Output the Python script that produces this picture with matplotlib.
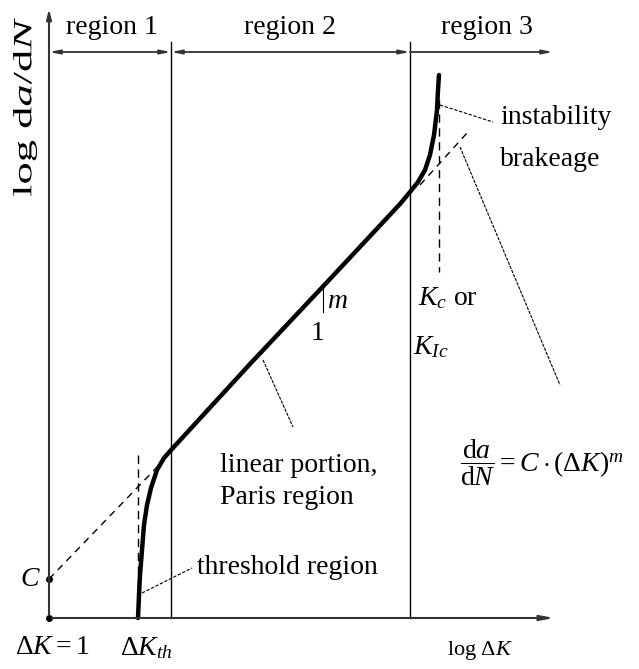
import numpy as np
import matplotlib.pyplot as plt
from matplotlib.textpath import TextPath
from matplotlib.patches import PathPatch
from matplotlib.font_manager import FontProperties
from matplotlib.transforms import Affine2D

plt.rcParams['font.family'] = ['Liberation Serif', 'DejaVu Serif']
plt.rcParams['mathtext.fontset'] = 'custom'
plt.rcParams['mathtext.rm'] = 'Liberation Serif'
plt.rcParams['mathtext.it'] = 'Liberation Serif:italic'

# schematic drawn in pixel units (x right, y down)
curve_x = [138, 139, 140, 142, 144, 147, 151, 157, 164, 172, 250, 330, 400, 410, 418, 425, 430, 434, 437, 438, 439]
curve_y = [618, 595, 575, 550, 525, 505, 488, 470, 458, 449, 364, 279, 204, 192, 182, 170, 155, 135, 110, 90, 75]

region_edges = [49, 171, 410, 553]
region_labels = ['region 1', 'region 2', 'region 3']
region_label_x = [112, 290, 487]

paris_low_x, paris_low_y = [49, 162], [579, 462]
paris_high_x, paris_high_y = [420, 467], [185, 133]

origin = (49, 618)
c_point = (49, 579)
dk_th = 138
k_c = 439

fig = plt.figure(figsize=(6.39, 6.69), dpi=100)
ax = fig.add_axes([0, 0, 1, 1])
ax.set_xlim(0, 639)
ax.set_ylim(669, 0)
ax.axis('off')

# axes with arrows
ax.annotate('', xy=(49, 6), xytext=origin,
            arrowprops=dict(arrowstyle='-|>,head_length=0.6,head_width=0.15', color='#333', lw=1.5))
ax.annotate('', xy=(557, 618), xytext=origin,
            arrowprops=dict(arrowstyle='-|>,head_length=0.8,head_width=0.15', color='#333', lw=1.5))

# region boundaries
for xe in region_edges[1:3]:
    ax.plot([xe, xe], [42, 618], color='black', lw=1)

# region dimension line
for i in range(2):
    ax.annotate('', xy=(region_edges[i], 52), xytext=(region_edges[i + 1], 52),
                arrowprops=dict(arrowstyle='<|-|>,head_length=0.6,head_width=0.12', color='#333', lw=1.3,
                                shrinkA=0, shrinkB=0))
ax.annotate('', xy=(region_edges[2], 52), xytext=(region_edges[3], 52),
            arrowprops=dict(arrowstyle='<|-,head_length=0.6,head_width=0.12', color='#333', lw=1.3,
                            shrinkA=0, shrinkB=0))
for lbl, xl in zip(region_labels, region_label_x):
    ax.text(xl, 27, lbl, ha='center', va='center', fontsize=20)

# dashed construction lines
ax.plot(paris_low_x, paris_low_y, color='black', lw=1, ls=(0, (5, 4)))
ax.plot(paris_high_x, paris_high_y, color='black', lw=1, ls=(0, (5, 4)))
ax.plot([dk_th, dk_th], [455, 618], color='black', lw=1, ls=(0, (6, 4)))
ax.plot([k_c, k_c], [100, 272], color='black', lw=1, ls=(0, (6, 4)))

# main curve
ax.plot(curve_x, curve_y, color='black', lw=3.2, solid_capstyle='round')

# points
ax.plot(*zip(origin, c_point), ls='none', marker='o', ms=4, color='black')

# leaders
ax.plot([440, 493], [105, 122], color='black', lw=0.8, ls=(0, (3, 1.5)))
ax.plot([460, 560], [147, 385], color='black', lw=0.8, ls=(0, (3, 1)))
ax.plot([263, 293], [360, 427], color='black', lw=0.8, ls=(0, (3, 1)))
ax.plot([142, 192], [593, 568], color='black', lw=0.8, ls=(0, (3, 1.5)))

# slope marker
ax.plot([323, 323], [288, 312], color='black', lw=0.8)
ax.text(327, 302, '$m$', fontsize=20, ha='left', va='center')
ax.text(318, 334, '1', fontsize=20, ha='center', va='center')

# y label, stretched along its length like the original
tp = TextPath((0, 0), r'log d$a$/d$N$', size=27.8, prop=FontProperties(family='Liberation Serif'))
ext = tp.get_extents()
su, sv = 1.6, 0.95
cu, cv = (ext.x0 + ext.x1) / 2, (ext.y0 + ext.y1) / 2
tr = Affine2D(np.array([[0, -sv, 25 + sv * cv], [-su, 0, 107 + su * cu], [0, 0, 1]]))
ax.add_patch(PathPatch(tr.transform_path(tp), color='black', lw=0))

# labels
ax.text(500, 117, 'instability', fontsize=20, ha='left', va='center')
ax.text(500, 160, 'brakeage', fontsize=20, ha='left', va='center')
ax.text(418, 298, r'$K_c$ or', fontsize=20, ha='left', va='center')
ax.text(413, 347, r'$K_{Ic}$', fontsize=20, ha='left', va='center')
ax.text(220, 465, 'linear portion,', fontsize=20, ha='left', va='center')
ax.text(220, 497, 'Paris region', fontsize=20, ha='left', va='center')
ax.text(197, 568, 'threshold region', fontsize=20, ha='left', va='center')
ax.text(460, 463, r'$\dfrac{\mathrm{d}a}{\mathrm{d}N} = C\cdot(\Delta K)^m$', fontsize=20, ha='left', va='center')
ax.text(30, 579, '$C$', fontsize=20, ha='center', va='center')
ax.text(15, 648, r'$\Delta K = 1$', fontsize=20, ha='left', va='center')
ax.text(120, 648, r'$\Delta K_{th}$', fontsize=20, ha='left', va='center')
ax.text(480, 651, r'log $\Delta K$', fontsize=16, ha='center', va='center')

fig.savefig('out.png', dpi=100)
